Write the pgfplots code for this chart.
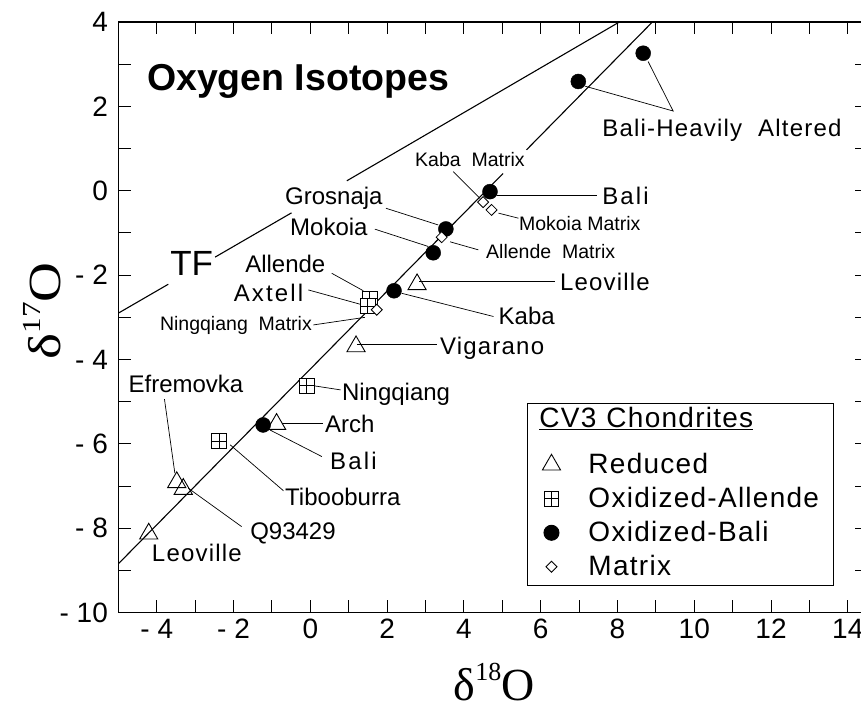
\documentclass[border=0pt]{standalone}
\usepackage{fontspec}
\setmainfont{Liberation Sans}
\newfontfamily\seriffont{Liberation Serif}
\newfontfamily\lsA[LetterSpace=9]{Liberation Sans}
\newfontfamily\lsB[LetterSpace=5]{Liberation Sans}
\newfontfamily\lsC[LetterSpace=4.5]{Liberation Sans}
\usepackage{graphicx}
\usepackage{pgfplots}
\pgfplotsset{compat=1.18}
\newcommand\fs[1]{\fontsize{#1}{#1}\selectfont}
\pgfdeclareplotmark{boxplus}{%
  \pgfpathrectangle{\pgfqpoint{-\pgfplotmarksize}{-\pgfplotmarksize}}{\pgfqpoint{2\pgfplotmarksize}{2\pgfplotmarksize}}%
  \pgfusepathqfillstroke
  \pgfpathmoveto{\pgfqpoint{-\pgfplotmarksize}{0pt}}\pgfpathlineto{\pgfqpoint{\pgfplotmarksize}{0pt}}%
  \pgfpathmoveto{\pgfqpoint{0pt}{-\pgfplotmarksize}}\pgfpathlineto{\pgfqpoint{0pt}{\pgfplotmarksize}}%
  \pgfusepathqstroke}
\pgfdeclareplotmark{rdiamond}{%
  \pgfpathmoveto{\pgfqpoint{0pt}{\pgfplotmarksize}}%
  \pgfpathlineto{\pgfqpoint{\pgfplotmarksize}{0pt}}%
  \pgfpathlineto{\pgfqpoint{0pt}{-\pgfplotmarksize}}%
  \pgfpathlineto{\pgfqpoint{-\pgfplotmarksize}{0pt}}%
  \pgfpathclose
  \pgfusepathqfillstroke}
\begin{document}
\begin{tikzpicture}
\begin{axis}[
  name=ax, scale only axis, width=748.6pt, height=590.7pt,
  xmin=-5, xmax=14.5, ymin=-10, ymax=4,
  xtick={-4,-2,0,2,4,6,8,10,12,14},
  xticklabels={- 4,- 2,0,2,4,6,8,10,12,14},
  ytick={-10,-8,-6,-4,-2,0,2,4},
  yticklabels={- 10,- 8,- 6,- 4,- 2,0,2,4},
  minor xtick={-5,-3,-1,1,3,5,7,9,11,13},
  minor ytick={-9,-7,-5,-3,-1,1,3},
  tick align=inside, major tick length=12.5pt, minor tick length=12.5pt,
  every tick/.style={black, line width=1pt},
  axis line style={line width=1.5pt},
  tick label style={font=\fs{28}},
  xticklabel style={yshift=-3pt},
  yticklabel style={xshift=-7pt},
  xlabel={\seriffont\fs{46}δ\raisebox{20pt}{\fs{26}18}O},
  ylabel={\scalebox{1.2}[1]{\seriffont\fs{46}δ\raisebox{20pt}{\fs{26}17}O}},
  xlabel style={at={(axis description cs:0.502,-0.1485)}, anchor=base},
  ylabel style={at={(axis description cs:-0.0767,0.511)}, anchor=base, rotate=0},
  legend style={at={(0.5458,0.355)}, anchor=north west, draw=black, line width=1pt,
    fill=white, inner xsep=12pt, inner ysep=2pt, column sep=23pt, row sep=0pt,
    font=\lsC\fs{28}, nodes={inner sep=2pt, text depth={}}},
  legend cell align=left,
  legend image code/.code={\path[draw=none,fill=none] (-12pt,-6pt) rectangle (12pt,6pt); \draw[#1] plot coordinates {(0pt,0pt)};},
]
\addlegendimage{empty legend}
\addlegendentry{\hspace*{-49pt}\underline{CV3\hspace{10pt}Chondrites}\rule[-18pt]{0pt}{38pt}}

% reference lines
\addplot[black, line width=1.1pt, forget plot] coordinates {(-5,-8.84) (5.02,0.41)};
\addplot[black, line width=1.1pt, forget plot] coordinates {(5.63,0.97) (8.91,4.0)};
\addplot[black, line width=1.1pt, forget plot] coordinates {(-5,-2.90) (-3.70,-2.215)};
\addplot[black, line width=1.1pt, forget plot] coordinates {(-2.48,-1.572) (-0.49,-0.523)};
\addplot[black, line width=1.1pt, forget plot] coordinates {(0.95,0.236) (8.05,4.0)};

% leader lines
\draw[line width=0.7pt] (axis cs:1.97,-0.415) -- (axis cs:3.33,-0.81);
\draw[line width=0.7pt] (axis cs:1.68,-0.91) -- (axis cs:3.07,-1.32);
\draw[line width=0.7pt] (axis cs:3.72,0.453) -- (axis cs:4.42,-0.18);
\draw[line width=0.9pt] (axis cs:4.85,-0.10) -- (axis cs:7.46,-0.10);
\draw[line width=0.7pt] (axis cs:4.90,-0.53) -- (axis cs:5.42,-0.65);
\draw[line width=0.7pt] (axis cs:3.64,-1.21) -- (axis cs:4.375,-1.40);
\draw[line width=0.7pt] (axis cs:7.15,2.48) -- (axis cs:9.45,1.89) -- (axis cs:8.80,3.06);
\draw[line width=0.7pt] (axis cs:0.556,-1.955) -- (axis cs:1.38,-2.37);
\draw[line width=0.7pt] (axis cs:-0.053,-2.35) -- (axis cs:1.38,-2.71);
\draw[line width=0.7pt] (axis cs:0.077,-3.18) -- (axis cs:1.42,-3.0);
\draw[line width=0.9pt] (axis cs:2.84,-2.14) -- (axis cs:6.37,-2.14);
\draw[line width=0.7pt] (axis cs:2.38,-2.43) -- (axis cs:4.77,-2.98);
\draw[line width=0.9pt] (axis cs:1.21,-3.64) -- (axis cs:3.29,-3.64);
\draw[line width=0.7pt] (axis cs:0.077,-4.62) -- (axis cs:0.79,-4.72);
\draw[line width=0.9pt] (axis cs:-0.75,-5.51) -- (axis cs:0.34,-5.51);
\draw[line width=0.7pt] (axis cs:-1.05,-5.67) -- (axis cs:0.30,-6.30);
\draw[line width=0.7pt] (axis cs:-2.09,-6.02) -- (axis cs:-0.70,-7.11);
\draw[line width=0.7pt] (axis cs:-3.18,-7.05) -- (axis cs:-1.79,-7.96);
\draw[line width=0.7pt] (axis cs:-3.80,-4.94) -- (axis cs:-3.53,-6.69);

% data
\addplot[only marks, mark=triangle, mark size=10.5pt, mark options={fill=white, draw=black, line width=0.9pt}]
  coordinates {(2.78,-2.22) (1.19,-3.69) (-0.88,-5.53) (-3.48,-6.91) (-3.31,-7.07) (-4.21,-8.13)};
\addlegendentry{Reduced\rule[-6pt]{0pt}{30pt}}
\addplot[only marks, mark=boxplus, mark size=7.3pt, mark options={fill=white, draw=black, line width=0.9pt}]
  coordinates {(1.55,-2.55) (1.50,-2.73) (-0.095,-4.62) (-2.38,-5.93)};
\addlegendentry{Oxidized-Allende\rule[-6pt]{0pt}{30pt}}
\addplot[only marks, mark=*, mark size=7.5pt, mark options={fill=black, draw=black}]
  coordinates {(-1.23,-5.55) (2.18,-2.37) (3.20,-1.47) (3.53,-0.905) (4.68,-0.02) (6.98,2.59) (8.67,3.26)};
\addlegendentry{Oxidized-Bali\rule[-6pt]{0pt}{30pt}}
\addplot[only marks, mark=rdiamond, mark size=5.5pt, mark options={fill=white, draw=black, line width=0.8pt}]
  coordinates {(4.50,-0.27) (4.72,-0.455) (3.42,-1.10) (1.73,-2.82)};
\addlegendentry{Matrix\rule[-6pt]{0pt}{30pt}}

% labels
\node[anchor=west, inner sep=0, font=\bfseries\fs{37.5}] at (axis cs:-4.26,2.59) {Oxygen Isotopes};
\node[anchor=center, inner sep=0, font=\fs{35}] at (axis cs:-3.09,-1.73) {TF};
\node[anchor=base west, inner sep=0, font=\fs{24}] at (axis cs:-0.66,-0.337) {Grosnaja};
\node[anchor=base west, inner sep=0, font=\fs{24}] at (axis cs:-0.53,-1.05) {Mokoia};
\node[anchor=base west, inner sep=0, font=\fs{19.5}] at (axis cs:2.725,0.571) {Kaba\ \ Matrix};
\node[anchor=base west, inner sep=0, font=\lsA\fs{24}] at (axis cs:7.60,-0.337) {Bali};
\node[anchor=base west, inner sep=0, font=\fs{19.5}] at (axis cs:5.43,-0.93) {Mokoia Matrix};
\node[anchor=base west, inner sep=0, font=\fs{19.5}] at (axis cs:4.575,-1.60) {Allende\ \ Matrix};
\node[anchor=base west, inner sep=0, font=\lsB\fs{24}] at (axis cs:7.60,1.28) {Bali-Heavily\hspace{16pt}Altered};
\node[anchor=base west, inner sep=0, font=\fs{24}] at (axis cs:-1.70,-1.94) {Allende};
\node[anchor=base west, inner sep=0, font=\lsA\fs{24}] at (axis cs:-2.0,-2.63) {Axtell};
\node[anchor=base west, inner sep=0, font=\fs{19.5}] at (axis cs:-3.92,-3.31) {Ningqiang\ \ Matrix};
\node[anchor=base west, inner sep=0, font=\lsB\fs{24}] at (axis cs:6.50,-2.37) {Leoville};
\node[anchor=base west, inner sep=0, font=\fs{24}] at (axis cs:4.90,-3.18) {Kaba};
\node[anchor=base west, inner sep=0, font=\lsB\fs{24}] at (axis cs:3.375,-3.87) {Vigarano};
\node[anchor=base west, inner sep=0, font=\fs{24}] at (axis cs:0.82,-4.96) {Ningqiang};
\node[anchor=base west, inner sep=0, font=\fs{24}] at (axis cs:0.38,-5.73) {Arch};
\node[anchor=base west, inner sep=0, font=\lsA\fs{24}] at (axis cs:0.51,-6.60) {Bali};
\node[anchor=base west, inner sep=0, font=\fs{24}] at (axis cs:-4.74,-4.78) {Efremovka};
\node[anchor=base west, inner sep=0, font=\fs{24}] at (axis cs:-0.66,-7.45) {Tibooburra};
\node[anchor=base west, inner sep=0, font=\fs{24}] at (axis cs:-1.57,-8.26) {Q93429};
\node[anchor=base west, inner sep=0, font=\lsB\fs{24}] at (axis cs:-4.13,-8.79) {Leoville};
\end{axis}
\pgfresetboundingbox
\path[use as bounding box] ([xshift=-118.4pt,yshift=-95.3pt]ax.south west) rectangle ([xshift=-6pt,yshift=22pt]ax.north east);
\end{tikzpicture}
\end{document}
